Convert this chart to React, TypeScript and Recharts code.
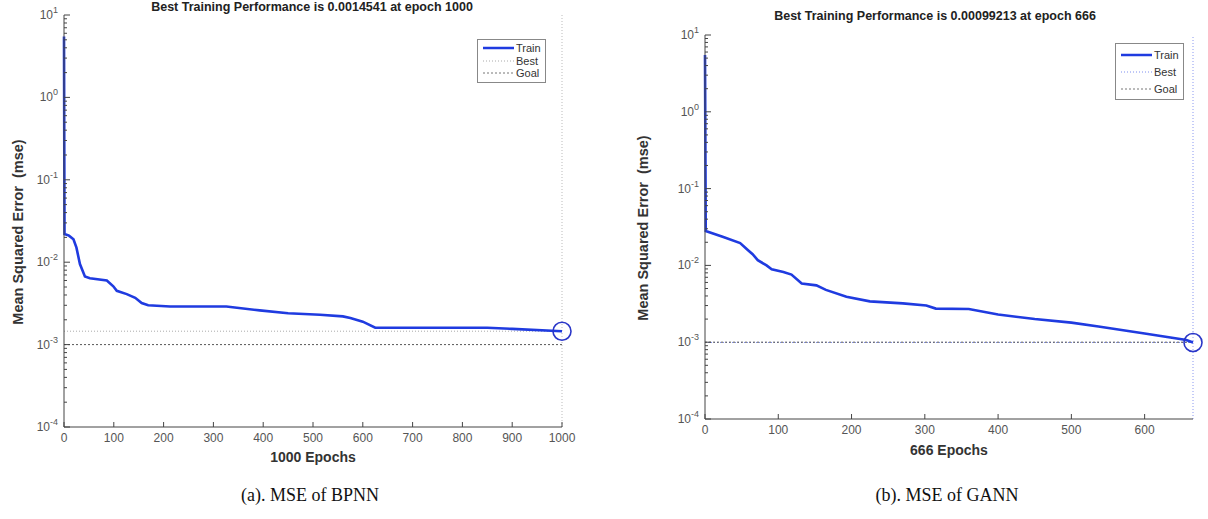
import React from "react";
import { LineChart, Line, XAxis, YAxis, ReferenceLine, ReferenceDot } from "recharts";

// (a) BPNN training curve
const bpnnEpoch = [0, 1, 10, 19, 25, 32, 42, 52, 86, 99, 106, 126, 143, 156, 169, 213, 326, 393, 450, 514, 560, 575, 600, 625, 700, 850, 900, 1000];
const bpnnMse = [5.5, 0.022, 0.021, 0.019, 0.015, 0.0095, 0.0067, 0.0064, 0.006, 0.0051, 0.0045, 0.0041, 0.0037, 0.0032, 0.003, 0.0029, 0.0029, 0.0026, 0.0024, 0.0023, 0.0022, 0.0021, 0.0019, 0.0016, 0.0016, 0.0016, 0.00155, 0.0014541];
const bpnnBest = 0.0014541;
const bpnnBestEpoch = 1000;
const bpnnTicks = [0, 100, 200, 300, 400, 500, 600, 700, 800, 900, 1000];

// (b) GANN training curve
const gannEpoch = [0, 1, 25, 48, 58, 65, 72, 84, 91, 107, 118, 132, 152, 165, 193, 225, 270, 302, 315, 360, 400, 450, 500, 537, 600, 657, 666];
const gannMse = [5.5, 0.028, 0.0234, 0.0195, 0.016, 0.014, 0.0117, 0.01, 0.0089, 0.0082, 0.0076, 0.0058, 0.0055, 0.0048, 0.0039, 0.0034, 0.0032, 0.003, 0.00274, 0.0027, 0.0023, 0.002, 0.0018, 0.0016, 0.0013, 0.00107, 0.00099213];
const gannBest = 0.00099213;
const gannBestEpoch = 666;
const gannTicks = [0, 100, 200, 300, 400, 500, 600];

const goal = 0.001;
const decades = [1e-4, 1e-3, 1e-2, 1e-1, 1, 10];
const legendNames = ["Train", "Best", "Goal"];

const logTicks: number[] = [];
decades.forEach((d, i) => {
  if (i === decades.length - 1) logTicks.push(d);
  else for (let k = 1; k < 10; k++) logTicks.push(+(d * k).toPrecision(3));
});

const SANS = "'Liberation Sans', Arial, sans-serif";
const SERIF = "'Liberation Serif', 'Times New Roman', serif";
const TICK = "#555";
const BLUE = "#1f3be0";

function YTick({ x, y, payload }: any) {
  const v = payload.value;
  const e = Math.round(Math.log10(v));
  const major = Math.abs(Math.log10(v) - e) < 1e-6;
  return (
    <g>
      <line x1={x} x2={x + (major ? 6 : 3)} y1={y} y2={y} stroke="#444" strokeWidth={1} />
      {major && (
        <text x={x - 6} y={y + 4} textAnchor="end" fontSize={12} fill={TICK} fontFamily={SANS}>
          10<tspan dy={-6} fontSize={9}>{e}</tspan>
        </text>
      )}
    </g>
  );
}

function XTick({ x, y, payload }: any) {
  return (
    <g>
      <line x1={x} x2={x} y1={y} y2={y - 5} stroke="#444" strokeWidth={1} />
      <text x={x} y={y + 15} textAnchor="middle" fontSize={12} fill={TICK} fontFamily={SANS}>
        {payload.value}
      </text>
    </g>
  );
}

function LegendBox({ left, top, rowH, bestColor }: any) {
  const styles = [
    { stroke: BLUE, width: 2.5, dash: undefined },
    { stroke: bestColor, width: 1, dash: "1 2" },
    { stroke: "#777", width: 1, dash: "2 2" },
  ];
  return (
    <div
      style={{
        position: "absolute",
        left,
        top,
        border: "1px solid #888",
        background: "#fff",
        padding: "2px 4px 2px 5px",
        fontFamily: SANS,
        fontSize: 11,
        color: "#333",
      }}
    >
      {legendNames.map((n, i) => (
        <div key={n} style={{ display: "flex", alignItems: "center", height: rowH }}>
          <svg width={31} height={6}>
            <line x1={0} x2={31} y1={3} y2={3} stroke={styles[i].stroke} strokeWidth={styles[i].width} strokeDasharray={styles[i].dash} />
          </svg>
          <span style={{ marginLeft: 2 }}>{n}</span>
        </div>
      ))}
    </div>
  );
}

function Panel(props: any) {
  const { epochs, mse, best, bestEpoch, ticks, width, height, margin, yWidth, xHeight, bestColor, vColor } = props;
  const data = epochs.map((e: number, i: number) => ({ epoch: e, mse: mse[i] }));
  return (
    <LineChart width={width} height={height} data={data} margin={margin}>
      <XAxis
        dataKey="epoch"
        type="number"
        domain={[0, bestEpoch]}
        ticks={ticks}
        interval={0}
        height={xHeight}
        tickSize={0}
        tickMargin={0}
        tick={<XTick />}
        axisLine={{ stroke: "#444" }}
      />
      <YAxis
        scale="log"
        type="number"
        domain={[1e-4, 10]}
        allowDataOverflow
        ticks={logTicks}
        interval={0}
        width={yWidth}
        tickSize={0}
        tickMargin={0}
        tick={<YTick />}
        axisLine={{ stroke: "#444" }}
      />
      <ReferenceLine y={best} stroke={bestColor} strokeDasharray="1 2" />
      <ReferenceLine y={goal} stroke="#555" strokeDasharray="2 2" />
      <ReferenceLine x={bestEpoch} stroke={vColor} strokeDasharray="1 2" />
      <Line type="linear" dataKey="mse" stroke={BLUE} strokeWidth={2.6} dot={false} isAnimationActive={false} />
      <ReferenceDot x={bestEpoch} y={best} r={9} fill="none" stroke="#2a36c8" strokeWidth={1.6} ifOverflow="visible" />
    </LineChart>
  );
}

const text = (s: any): React.CSSProperties => ({ position: "absolute", whiteSpace: "nowrap", ...s });

export default function App() {
  return (
    <div style={{ position: "relative", width: 1208, height: 519, background: "#fff", overflow: "hidden" }}>
      <style>{"body{margin:0}"}</style>

      <div style={{ position: "absolute", left: 0, top: 0 }}>
        <Panel
          epochs={bpnnEpoch}
          mse={bpnnMse}
          best={bpnnBest}
          bestEpoch={bpnnBestEpoch}
          ticks={bpnnTicks}
          width={600}
          height={519}
          margin={{ top: 15, right: 38, left: 0, bottom: 0 }}
          yWidth={64}
          xHeight={92}
          bestColor="#aaa"
          vColor="#bbb"
        />
      </div>
      <div style={{ position: "absolute", left: 600, top: 0 }}>
        <Panel
          epochs={gannEpoch}
          mse={gannMse}
          best={gannBest}
          bestEpoch={gannBestEpoch}
          ticks={gannTicks}
          width={608}
          height={519}
          margin={{ top: 35, right: 15, left: 0, bottom: 0 }}
          yWidth={105}
          xHeight={100}
          bestColor="#7f8ff0"
          vColor="#8a98f0"
        />
      </div>

      <LegendBox left={477} top={39} rowH={12.5} bestColor="#aaa" />
      <LegendBox left={1115} top={43} rowH={17} bestColor="#7f8ff0" />

      <div style={text({ left: 312, top: 0, transform: "translateX(-50%)", font: `bold 12.5px ${SANS}`, color: "#222" })}>
        Best Training Performance is 0.0014541 at epoch 1000
      </div>
      <div style={text({ left: 935, top: 9, transform: "translateX(-50%)", font: `bold 12.5px ${SANS}`, color: "#222" })}>
        Best Training Performance is 0.00099213 at epoch 666
      </div>

      <div style={text({ left: 18, top: 232, transform: "translate(-50%,-50%) rotate(-90deg)", font: `bold 14.5px ${SANS}`, color: "#333" })}>
        Mean Squared Error&nbsp; (mse)
      </div>
      <div style={text({ left: 643, top: 228, transform: "translate(-50%,-50%) rotate(-90deg)", font: `bold 14.5px ${SANS}`, color: "#333" })}>
        Mean Squared Error&nbsp; (mse)
      </div>

      <div style={text({ left: 313, top: 449, transform: "translateX(-50%)", font: `bold 14px ${SANS}`, color: "#333" })}>
        1000 Epochs
      </div>
      <div style={text({ left: 949, top: 442, transform: "translateX(-50%)", font: `bold 14px ${SANS}`, color: "#333" })}>
        666 Epochs
      </div>

      <div style={text({ left: 310, top: 485, transform: "translateX(-50%)", font: `18px ${SERIF}`, color: "#111" })}>
        (a). MSE of BPNN
      </div>
      <div style={text({ left: 947, top: 485, transform: "translateX(-50%)", font: `18px ${SERIF}`, color: "#111" })}>
        (b). MSE of GANN
      </div>
    </div>
  );
}
